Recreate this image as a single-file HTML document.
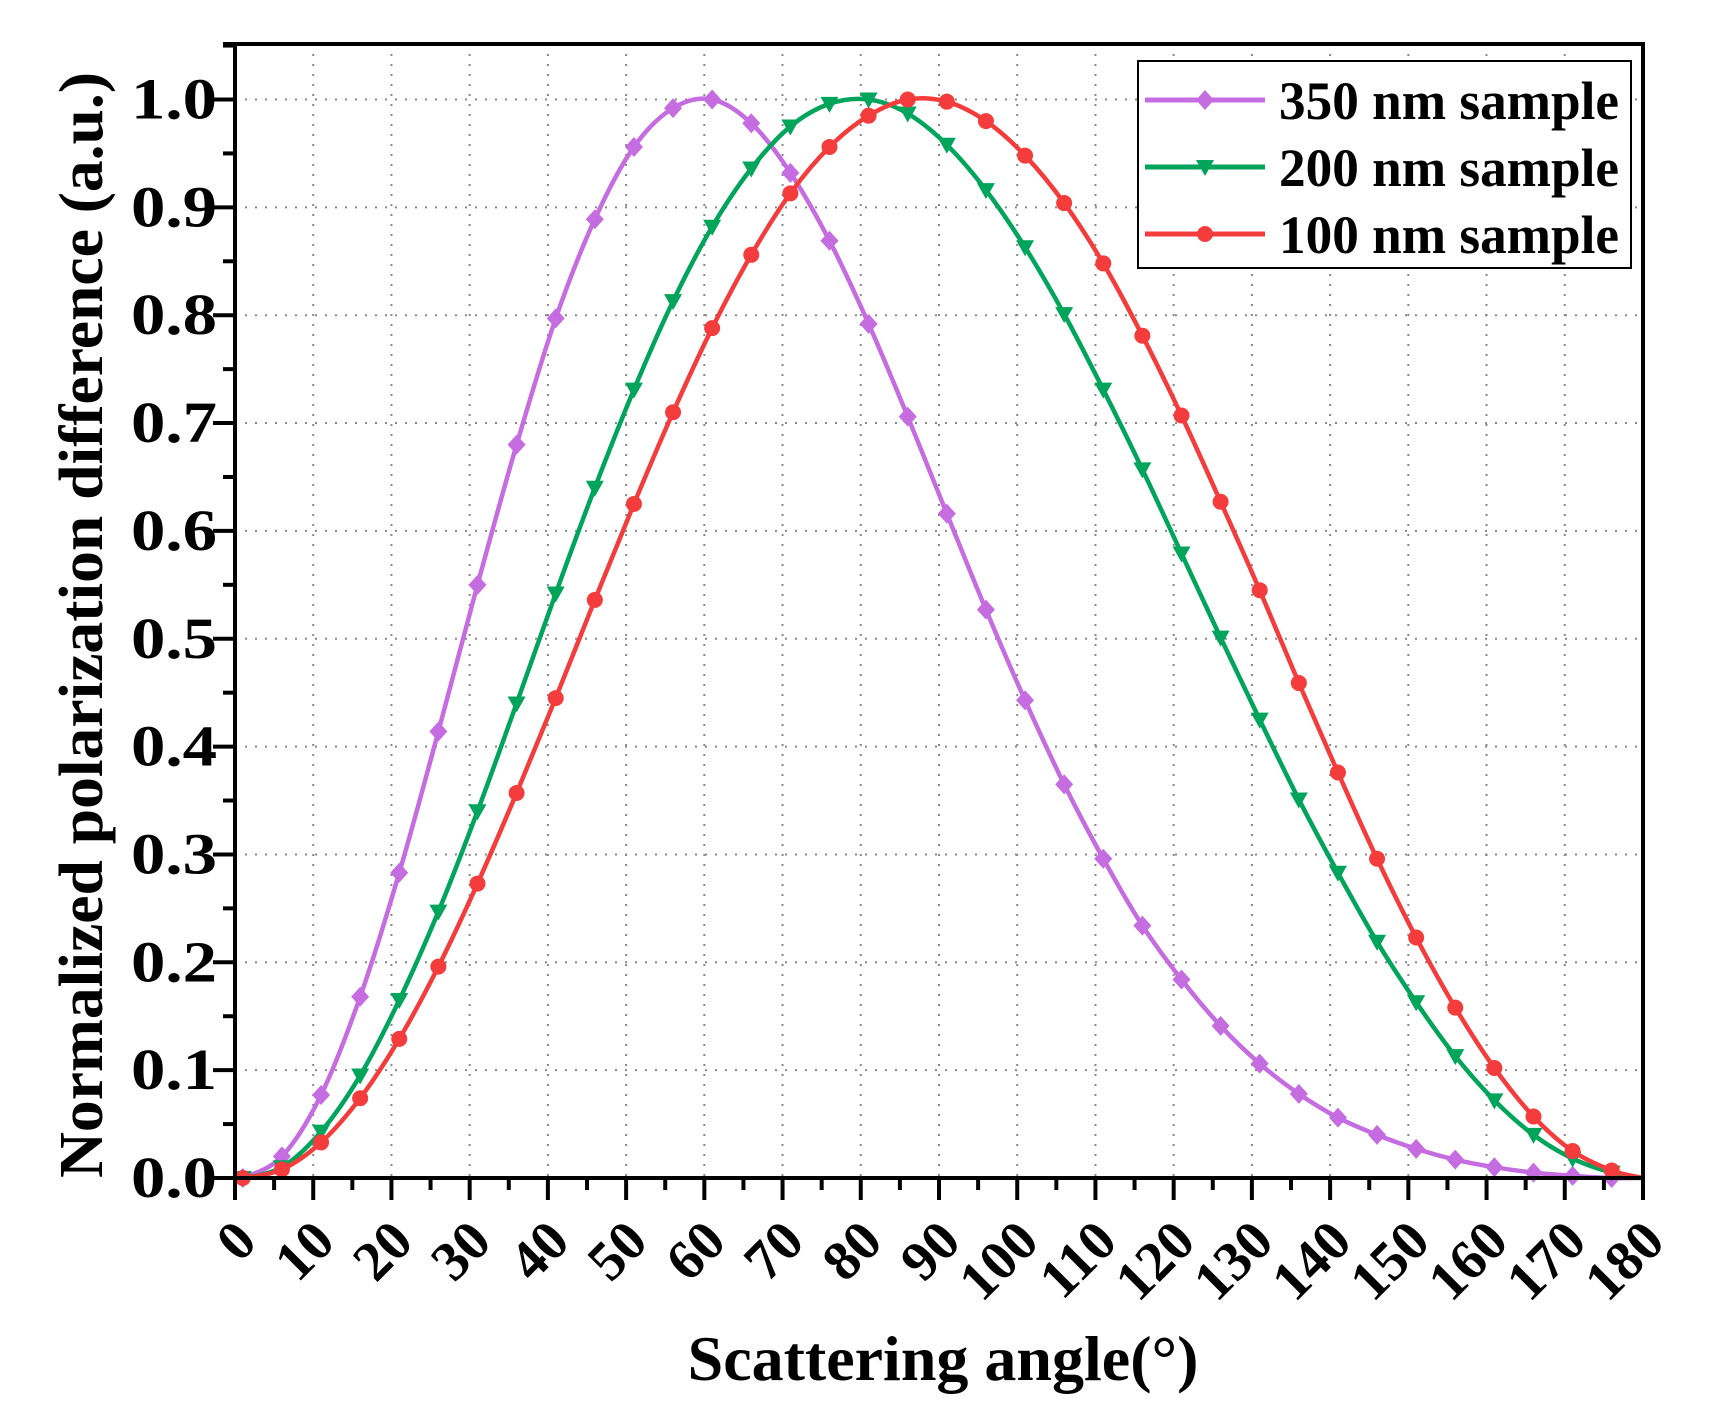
<!DOCTYPE html>
<html><head><meta charset="utf-8"><style>html,body{margin:0;padding:0;background:#fff}svg{display:block}text{font-family:"Liberation Serif",serif;font-weight:bold;fill:#000}</style></head>
<body>
<svg id="s" width="1725" height="1424" viewBox="0 0 1725 1424" xmlns="http://www.w3.org/2000/svg">
<g id="grid"></g>
<g id="series"></g>
<g id="axes"></g>
<text x="943" y="1380" font-size="64" text-anchor="middle">Scattering angle(°)</text>
<text transform="translate(102,625) rotate(-90)" font-size="62" text-anchor="middle" textLength="1106" lengthAdjust="spacingAndGlyphs">Normalized polarization difference (a.u.)</text>
<rect x="1145" y="61" width="493" height="207" fill="#fff" stroke="#000" stroke-width="2" transform="translate(-7,0)"/>
<g id="legend" transform="translate(-7,0)"></g>
</svg>
<script>
var NS="http://www.w3.org/2000/svg";
function el(p,t,a,txt){var e=document.createElementNS(NS,t);for(var k in a)e.setAttribute(k,a[k]);if(txt!=null)e.textContent=txt;document.getElementById(p).appendChild(e);return e;}
var X0=235,X1=1643,Y0=1178,Y1=99.5;
function px(d){return X0+(X1-X0)*d/180;}
function py(v){return Y0-(Y0-Y1)*v;}
for(var d=10;d<180;d+=10)el("grid","line",{x1:px(d),x2:px(d),y1:44,y2:Y0,stroke:"#888","stroke-width":2,"stroke-dasharray":"2 8"});
for(var i=1;i<=10;i++)el("grid","line",{x1:X0,x2:X1,y1:py(i/10),y2:py(i/10),stroke:"#888","stroke-width":2,"stroke-dasharray":"2 8"});
el("axes","line",{x1:X0,x2:X0,y1:42,y2:Y0+2,stroke:"#000","stroke-width":4});
el("axes","line",{x1:X1,x2:X1,y1:42,y2:Y0+2,stroke:"#000","stroke-width":4});
el("axes","line",{x1:223,x2:X1+2,y1:44,y2:44,stroke:"#000","stroke-width":4});
el("axes","line",{x1:222,x2:X1+2,y1:Y0,y2:Y0,stroke:"#000","stroke-width":4});
for(var d=0;d<=180;d+=5){var maj=d%10==0;el("axes","line",{x1:px(d),x2:px(d),y1:Y0,y2:Y0+(maj?22:12),stroke:"#000","stroke-width":4});
 if(maj){var tx=px(d)+24,ty=1244;el("axes","text",{x:tx,y:ty,"font-size":56,"text-anchor":"end",transform:"rotate(-45 "+tx+" "+ty+")"},String(d));}}
for(var i=0;i<=21;i++){var v=i*0.05,maj=i%2==0;var y=py(v);el("axes","line",{x1:X0,x2:X0-(maj?22:12),y1:y,y2:y,stroke:"#000","stroke-width":4});
 if(maj)el("axes","text",{x:217,y:y+19,"font-size":58,"text-anchor":"end",textLength:86,lengthAdjust:"spacingAndGlyphs"},(v).toFixed(1));}
var S=[
{c:"#c56de0",m:"d",v:[0,0.02,0.077,0.168,0.283,0.414,0.55,0.68,0.797,0.889,0.956,0.992,1.0,0.978,0.932,0.869,0.792,0.706,0.616,0.527,0.443,0.365,0.296,0.234,0.184,0.141,0.106,0.078,0.056,0.04,0.027,0.017,0.01,0.005,0.002,0.0]},
{c:"#00a45a",m:"t",v:[0,0.01,0.043,0.095,0.165,0.247,0.34,0.44,0.542,0.64,0.731,0.813,0.882,0.936,0.975,0.996,1.0,0.987,0.958,0.916,0.863,0.801,0.731,0.657,0.579,0.501,0.425,0.351,0.283,0.219,0.163,0.113,0.072,0.04,0.018,0.005]},
{c:"#f43c3c",m:"c",v:[0,0.008,0.033,0.074,0.129,0.196,0.273,0.357,0.445,0.536,0.625,0.71,0.788,0.856,0.913,0.956,0.985,1.0,0.998,0.98,0.948,0.904,0.848,0.781,0.707,0.627,0.545,0.459,0.376,0.296,0.223,0.158,0.102,0.057,0.025,0.007]}];
function marker(g,m,x,y,c){
 if(m=="d")el(g,"path",{d:"M"+x+" "+(y-10)+"L"+(x+9)+" "+y+"L"+x+" "+(y+10)+"L"+(x-9)+" "+y+"Z",fill:c});
 else if(m=="t")el(g,"path",{d:"M"+(x-9)+" "+(y-7)+"L"+(x+9)+" "+(y-7)+"L"+x+" "+(y+9)+"Z",fill:c});
 else el(g,"circle",{cx:x,cy:y,r:8,fill:c});}
S.forEach(function(s){
 var p=s.v.map(function(v,i){return [px(1+5*i),py(v)];});
 p.unshift([px(0),py(0)]);p.push([px(180),py(0)]);
 var d="M"+p[0][0]+" "+p[0][1];
 for(var i=0;i<p.length-1;i++){var a=p[Math.max(0,i-1)],b=p[i],c=p[i+1],e=p[Math.min(p.length-1,i+2)];
  d+="C"+(b[0]+(c[0]-a[0])/6)+" "+(b[1]+(c[1]-a[1])/6)+" "+(c[0]-(e[0]-b[0])/6)+" "+(c[1]-(e[1]-b[1])/6)+" "+c[0]+" "+c[1];}
 el("series","path",{d:d,fill:"none",stroke:s.c,"stroke-width":4.5});
 s.v.forEach(function(v,i){marker("series",s.m,px(1+5*i),py(v),s.c);});
});
var names=["350 nm sample","200 nm sample","100 nm sample"],ly=[100,167,234];
S.forEach(function(s,i){el("legend","line",{x1:1152,x2:1272,y1:ly[i],y2:ly[i],stroke:s.c,"stroke-width":5});marker("legend",s.m,1212,ly[i],s.c);
 el("legend","text",{x:1286,y:ly[i]+19,"font-size":54,textLength:340,lengthAdjust:"spacingAndGlyphs"},names[i]);});
</script>
</body></html>
